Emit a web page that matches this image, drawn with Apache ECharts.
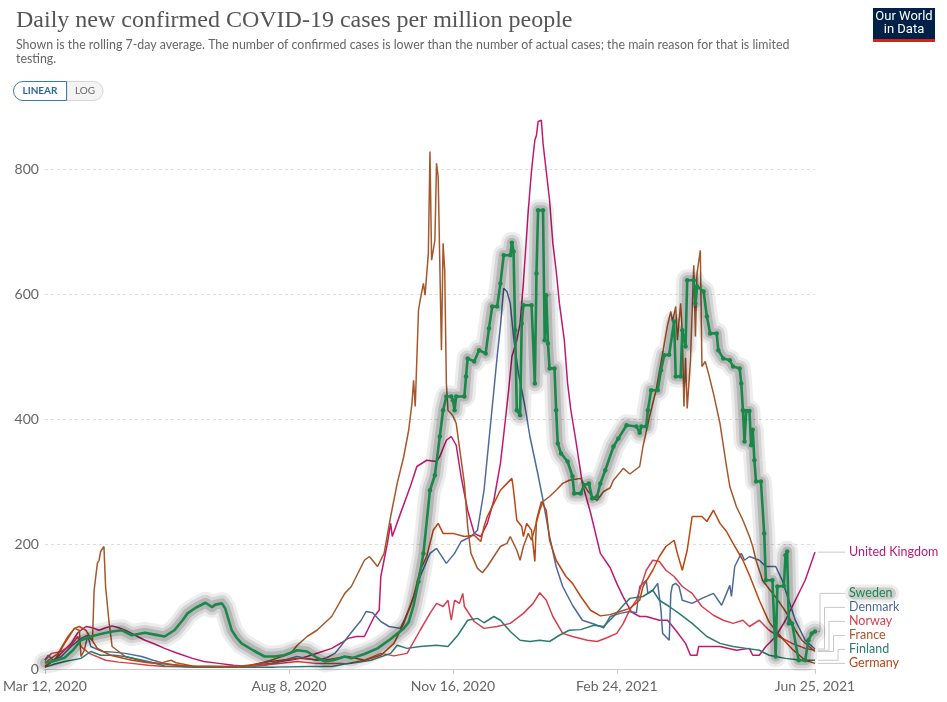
<!DOCTYPE html>
<html><head><meta charset="utf-8">
<script src="https://cdn.jsdelivr.net/npm/echarts@6/dist/echarts.min.js"></script>
<style>html,body{margin:0;padding:0;background:#fff}#c{width:947px;height:702px}</style>
</head><body><div id="c"></div>
<script>
const START = Date.UTC(2020, 2, 12);
const DAY = 86400000;
const tickDays = [0, 149, 249, 349, 470];
const yTicks = [0, 200, 400, 600, 800];
const MONTHS = ['Jan','Feb','Mar','Apr','May','Jun','Jul','Aug','Sep','Oct','Nov','Dec'];

// [day since Mar 12 2020, cases per million]
const uk = [[0,3],[8,20],[16,41],[20,58],[25,68],[29,66],[33,62],[37,66],[41,69],[45,66],[49,62],[55,54],[61,46],[67,40],[73,33],[80,26],[90,17],[97,12],[106,9],[115,6],[124,4],[134,6],[144,12],[152,15],[160,20],[167,26],[175,33],[181,42],[185,49],[190,52],[195,52],[201,84],[204,94],[205,148],[209,201],[211,233],[212,212],[217,249],[223,292],[227,324],[233,334],[239,332],[241,340],[245,366],[248,372],[251,358],[254,308],[258,254],[262,217],[266,212],[270,233],[274,270],[278,329],[281,398],[283,446],[285,500],[288,526],[290,553],[292,617],[295,734],[297,798],[299,846],[300,854],[301,876],[303,878],[304,841],[306,796],[308,750],[310,681],[312,638],[314,585],[317,526],[319,457],[321,414],[324,366],[328,297],[333,250],[339,185],[345,162],[349,137],[353,115],[358,91],[363,84],[367,84],[375,78],[380,78],[385,62],[391,41],[394,22],[398,22],[399,36],[412,36],[422,30],[430,33],[432,22],[436,22],[440,36],[446,52],[452,78],[458,110],[464,142],[470,187]];
const sweden = [[0,10],[6,13],[12,18],[17,30],[22,46],[28,52],[34,56],[41,60],[47,62],[53,54],[61,58],[67,55],[73,52],[79,62],[84,78],[87,89],[92,98],[98,106],[102,99],[104,103],[108,105],[110,97],[114,62],[117,50],[120,41],[127,30],[134,20],[140,20],[146,22],[154,30],[160,28],[166,18],[171,12],[176,14],[183,20],[187,17],[195,24],[203,33],[211,48],[219,65],[222,75],[225,102],[228,140],[231,185],[235,286],[238,310],[241,372],[243,414],[245,436],[248,436],[249,430],[250,414],[251,436],[256,436],[257,468],[258,497],[262,492],[265,510],[269,505],[271,545],[273,580],[276,580],[278,617],[280,662],[284,662],[285,682],[286,668],[287,542],[288,414],[290,406],[291,553],[292,582],[297,582],[299,457],[300,633],[301,734],[304,734],[305,526],[306,598],[307,521],[308,481],[311,481],[312,414],[313,361],[315,345],[319,332],[322,308],[323,281],[327,281],[329,294],[332,297],[334,273],[337,276],[339,297],[342,318],[347,356],[350,369],[355,390],[361,388],[363,378],[364,388],[367,388],[368,414],[370,446],[374,446],[376,478],[378,502],[381,503],[384,556],[385,468],[388,468],[389,542],[391,516],[392,622],[396,622],[397,585],[398,612],[402,604],[404,564],[406,537],[410,537],[411,510],[414,497],[418,494],[420,484],[424,481],[425,457],[426,414],[427,364],[428,413],[430,413],[431,358],[432,383],[433,334],[434,300],[437,300],[439,217],[440,142],[444,142],[446,20],[447,132],[451,133],[452,182],[453,188],[454,73],[456,73],[460,14],[464,14],[466,46],[468,57],[470,60]];
const denmark = [[0,14],[2,22],[5,14],[10,20],[16,36],[22,49],[26,54],[28,36],[35,28],[42,27],[49,25],[59,20],[66,14],[73,9],[85,4],[100,3],[114,4],[125,6],[138,9],[146,14],[154,20],[160,17],[166,14],[172,18],[177,25],[181,38],[185,52],[193,78],[196,92],[200,90],[205,76],[210,68],[217,65],[223,100],[229,148],[235,185],[239,193],[245,169],[250,185],[254,204],[260,212],[264,222],[268,286],[271,366],[274,446],[276,500],[278,548],[280,609],[282,604],[284,585],[286,532],[289,473],[293,420],[296,372],[301,310],[304,270],[308,212],[312,164],[316,132],[322,102],[328,78],[335,72],[341,66],[345,84],[351,89],[357,92],[361,90],[363,132],[367,142],[368,121],[371,126],[374,137],[376,94],[377,57],[381,46],[382,121],[383,134],[385,137],[387,132],[389,110],[395,105],[401,113],[408,121],[413,102],[416,121],[418,134],[419,116],[421,164],[425,185],[427,174],[430,180],[436,174],[440,164],[446,164],[450,142],[454,110],[458,78],[464,46],[470,32]];
const norway = [[0,14],[4,25],[10,28],[16,38],[20,52],[22,36],[27,25],[37,14],[45,11],[53,9],[63,6],[73,4],[100,3],[125,4],[140,8],[154,12],[165,9],[175,9],[185,9],[195,14],[205,25],[213,21],[221,25],[229,62],[235,89],[239,105],[243,100],[246,110],[248,78],[250,110],[253,105],[255,121],[256,100],[262,76],[268,65],[276,68],[284,73],[292,89],[298,105],[302,122],[306,110],[310,84],[316,57],[322,52],[331,46],[337,44],[343,50],[349,57],[353,73],[357,95],[361,110],[367,158],[371,174],[375,172],[379,158],[384,148],[389,132],[395,121],[401,100],[408,86],[414,78],[420,73],[426,78],[430,68],[436,78],[442,62],[448,52],[456,41],[464,33],[470,30]];
const france = [[0,10],[8,25],[14,52],[18,65],[21,62],[22,20],[24,30],[26,52],[29,46],[30,126],[32,169],[33,174],[34,188],[36,196],[37,132],[39,78],[41,36],[49,20],[60,12],[70,9],[77,14],[80,10],[90,5],[110,4],[125,5],[138,14],[150,25],[154,38],[160,52],[166,62],[175,84],[183,121],[187,132],[195,174],[198,180],[203,164],[207,185],[211,244],[215,297],[219,340],[222,382],[224,425],[225,462],[226,420],[228,574],[229,590],[231,617],[232,598],[234,665],[235,828],[236,654],[238,686],[239,809],[240,788],[242,510],[243,681],[244,638],[245,457],[246,414],[249,405],[251,393],[256,297],[258,228],[260,185],[264,161],[267,154],[270,164],[274,180],[278,196],[282,201],[284,212],[288,190],[290,174],[292,196],[295,217],[297,206],[302,254],[304,268],[308,276],[312,286],[316,297],[320,302],[327,305],[331,286],[335,273],[337,270],[341,284],[345,290],[347,302],[353,321],[357,312],[363,324],[365,356],[369,404],[373,446],[377,505],[380,550],[382,572],[383,556],[385,580],[386,526],[388,585],[389,537],[390,420],[391,498],[392,417],[394,494],[396,646],[397,532],[398,633],[400,670],[401,484],[403,492],[405,473],[408,441],[412,393],[416,324],[418,292],[422,260],[426,238],[430,212],[432,196],[434,174],[438,142],[442,128],[446,115],[450,100],[454,84],[458,62],[462,46],[470,28]];
const finland = [[0,3],[6,8],[12,12],[22,17],[28,28],[34,22],[42,22],[49,20],[56,16],[63,12],[73,5],[90,3],[110,3],[140,3],[160,4],[175,4],[183,8],[187,9],[199,14],[211,25],[215,38],[221,33],[229,36],[239,38],[246,36],[252,54],[258,78],[264,81],[268,74],[274,84],[278,78],[284,60],[290,46],[296,44],[302,46],[308,44],[314,54],[320,62],[327,63],[335,70],[341,68],[347,84],[353,102],[357,113],[365,116],[371,126],[375,110],[381,100],[387,89],[395,73],[404,52],[412,41],[420,36],[428,33],[436,30],[442,22],[452,17],[462,14],[470,14]];
const germany = [[0,5],[6,14],[12,41],[18,65],[21,68],[25,62],[28,49],[32,33],[40,22],[53,14],[63,10],[73,8],[93,4],[120,4],[138,12],[154,17],[170,14],[185,20],[195,14],[205,22],[213,41],[219,73],[225,116],[229,158],[233,180],[237,222],[240,233],[243,217],[249,217],[256,212],[262,214],[266,204],[268,228],[270,244],[274,265],[278,286],[282,297],[285,305],[286,286],[288,238],[291,228],[292,212],[294,233],[297,222],[299,172],[300,238],[303,268],[306,254],[308,206],[312,174],[318,148],[322,137],[327,116],[333,94],[339,85],[345,87],[351,92],[357,97],[363,110],[365,132],[371,158],[375,180],[379,196],[384,206],[386,185],[389,158],[392,190],[395,244],[401,244],[404,236],[408,254],[412,233],[416,220],[420,201],[426,174],[430,150],[436,110],[442,75],[448,55],[456,32],[464,14],[470,9]];

const countries = [
  {name:'United Kingdom', color:'#c2186f', data:uk},
  {name:'Denmark', color:'#4c6a9c', data:denmark},
  {name:'Norway', color:'#d6404e', data:norway},
  {name:'France', color:'#a6572b', data:france},
  {name:'Finland', color:'#2b7b6f', data:finland},
  {name:'Germany', color:'#bd4511', data:germany},
  {name:'Sweden', color:'#19884a', data:sweden, hl:true}
];
const haloLayers = [[22, 0.07], [16, 0.1], [10, 0.15]];

function fmtDay(d){ const t = new Date(START + d*DAY); return MONTHS[t.getUTCMonth()] + ' ' + t.getUTCDate() + ', ' + t.getUTCFullYear(); }
const dotFrom = 228;

const chart = echarts.init(document.getElementById('c'), null, {renderer:'canvas'});
const series = [];
countries.forEach(c => {
  if (c.hl) {
    // soft grey halo behind the highlighted country
    haloLayers.forEach((h, i) => series.push({
      name: c.name + ' halo ' + i, type:'line', data: c.data, animation:false, silent:true,
      showSymbol:false, z:3, emphasis:{disabled:true},
      lineStyle:{color:'rgba(0,0,0,' + h[1] + ')', width:h[0], cap:'round', join:'round'}
    }));
  }
  const s = {
    name: c.name, type:'line', data: c.data, animation:false,
    showSymbol:false, smooth:false, z: c.hl ? 5 : 2,
    lineStyle:{color:c.color, width:1.5}, itemStyle:{color:c.color},
    emphasis:{disabled:true}
  };
  if (c.hl) {
    s.showSymbol = true; s.showAllSymbol = true; s.symbol = 'circle';
    s.symbolSize = v => (v[0] >= dotFrom ? 4.5 : 0);
    s.lineStyle = {color:c.color, width:2.6};
  }
  series.push(s);
});

chart.setOption({
  animation:false,
  title:{
    left:11, top:4,
    text:'Daily new confirmed COVID-19 cases per million people',
    subtext:'Shown is the rolling 7-day average. The number of confirmed cases is lower than the number of actual cases; the main reason for that is limited\ntesting.',
    itemGap:5,
    textStyle:{fontFamily:'Liberation Serif', fontSize:24, fontWeight:'normal', color:'#555'},
    subtextStyle:{fontFamily:'Lato', fontSize:12.4, color:'#666', lineHeight:14}
  },
  grid:{left:43, right:132, top:119, bottom:33, containLabel:false},
  xAxis:{
    type:'value', min:0, max:470,
    axisLine:{show:true, lineStyle:{color:'#ccc'}},
    axisTick:{show:true, customValues:tickDays, length:5, lineStyle:{color:'#ccc'}},
    axisLabel:{customValues:tickDays, formatter:v => fmtDay(v), color:'#666', fontFamily:'Lato', fontSize:14, margin:10, showMinLabel:true, showMaxLabel:true, hideOverlap:false},
    splitLine:{show:false}
  },
  yAxis:{
    type:'value', min:0, max:880, interval:200,
    axisLine:{show:false}, axisTick:{show:false},
    axisLabel:{color:'#666', fontFamily:'Lato', fontSize:14, margin:6, showMaxLabel:false,
      formatter:v => (yTicks.indexOf(v) >= 0 ? String(v) : '')},
    splitLine:{show:true, showMaxLine:false, lineStyle:{color:'#ddd', type:[3,3]}}
  },
  series: series
});

// end labels, spread so they do not overlap, with leader lines
const ends = countries.map(c => {
  const last = c.data[c.data.length-1];
  const p = chart.convertToPixel({gridIndex:0}, last);
  return {name:c.name, color:c.color, hl:!!c.hl, x:p[0], y:p[1]};
});
ends.sort((a,b) => b.y - a.y);
let prev = Infinity;
ends.forEach(e => { e.ly = Math.min(e.y, prev - 14); prev = e.ly; });
const labelX = 849;
const displaced = ends.filter(e => Math.abs(e.ly - e.y) > 1).sort((a,b) => a.ly - b.ly);
const g = [];
ends.forEach(e => {
  const rank = displaced.indexOf(e);
  let pts;
  if (rank < 0) {
    pts = [[e.x + 3, e.y], [labelX - 4, e.ly]];
  } else {
    const ex = e.x + 5 + 4.5*rank;
    pts = [[e.x + 3, e.y], [ex, e.y], [ex, e.ly], [labelX - 4, e.ly]];
  }
  g.push({type:'polyline', silent:true, shape:{points:pts}, style:{stroke:'#c8c8c8', lineWidth:1, fill:null}});
  if (e.hl) {
    g.push({type:'rect', silent:true, shape:{x:labelX - 4, y:e.ly - 9, width:54, height:18, r:9}, style:{fill:'rgba(0,0,0,0.07)'}});
    g.push({type:'rect', silent:true, shape:{x:labelX - 1, y:e.ly - 6, width:48, height:12, r:6}, style:{fill:'rgba(0,0,0,0.14)'}});
  }
  g.push({type:'text', silent:true, x:labelX, y:e.ly, style:{text:e.name, fill:e.color, font:'12.5px Lato', align:'left', verticalAlign:'middle'}});
});

// LINEAR / LOG toggle
g.push({type:'rect', silent:true, shape:{x:67, y:81.5, width:36, height:19, r:[0,9.5,9.5,0]}, style:{fill:'#f4f4f4', stroke:'#d6d6d6', lineWidth:1}});
g.push({type:'text', silent:true, x:85, y:91, style:{text:'LOG', fill:'#666', font:'10px Lato', align:'center', verticalAlign:'middle'}});
g.push({type:'rect', silent:true, shape:{x:13.5, y:81.5, width:53, height:19, r:[9.5,0,0,9.5]}, style:{fill:'#fff', stroke:'#3b78c2', lineWidth:1}});
g.push({type:'text', silent:true, x:40, y:91, style:{text:'LINEAR', fill:'#2b66ad', font:'bold 10px Lato', align:'center', verticalAlign:'middle'}});

// Our World in Data logo
g.push({type:'rect', silent:true, shape:{x:873, y:8, width:62, height:34}, style:{fill:'#002147'}});
g.push({type:'rect', silent:true, shape:{x:873, y:39, width:62, height:3}, style:{fill:'#ce261e'}});
g.push({type:'text', silent:true, x:904, y:17, style:{text:'Our World', fill:'#fff', font:'13px "Liberation Sans Narrow", Roboto, sans-serif', align:'center', verticalAlign:'middle'}});
g.push({type:'text', silent:true, x:904, y:30, style:{text:'in Data', fill:'#fff', font:'13px "Liberation Sans Narrow", Roboto, sans-serif', align:'center', verticalAlign:'middle'}});

chart.setOption({graphic:{elements:g}});
</script>
</body></html>
